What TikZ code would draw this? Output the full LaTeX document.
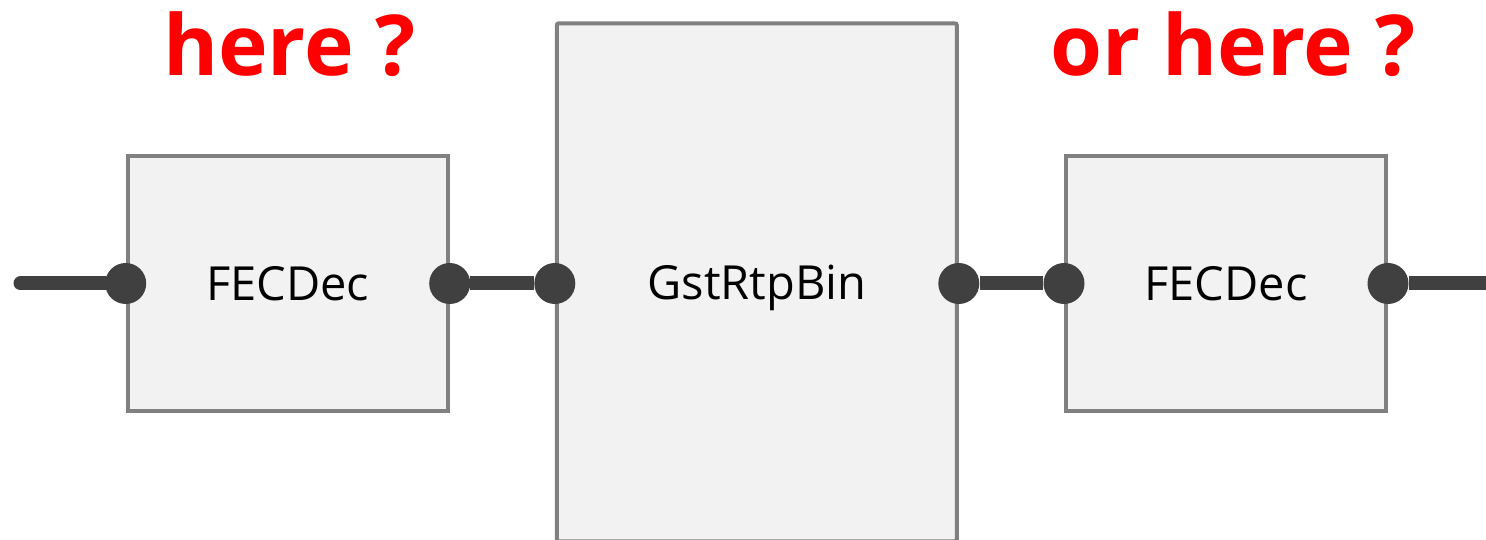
\documentclass[tikz,border=0pt]{standalone}
\usepackage{fontspec}
\setmainfont{Open Sans}
\usepackage{tikz}

\definecolor{boxfill}{HTML}{F2F2F2}
\definecolor{boxline}{HTML}{808080}
\definecolor{padcol}{HTML}{404040}

\tikzset{
  element/.style={draw=boxline, fill=boxfill, line width=4pt, inner sep=0pt,
    text height=34pt, text depth=0pt, font=\fontsize{47}{56}\selectfont},
  pad/.style={circle, fill=padcol, inner sep=0pt, minimum size=41pt},
  link/.style={draw=padcol, line width=14pt},
  question/.style={text=red, anchor=base, font=\fontsize{84}{100}\selectfont\bfseries}
}

\begin{document}
\begin{tikzpicture}[x=1pt, y=1pt]
  \useasboundingbox (0,0) rectangle (1486,540);
  % elements
  \node [element, minimum width=320pt, minimum height=255pt] (dec1) at (287.7, 256.5) {FECDec};
  \node [element, rounded corners=2pt, minimum width=400pt, minimum height=518pt] (rtp) at (756.8, 257.7) {GstRtpBin};
  \node [element, minimum width=320pt, minimum height=255pt] (dec2) at (1226, 256.5) {FECDec};
  % pads
  \node [pad] (dec1sink) at (dec1.west) {};
  \node [pad] (dec1src) at (dec1.east) {};
  \node [pad] (rtpsink) at (rtp.west |- dec1.west) {};
  \node [pad] (rtpsrc) at (rtp.east |- dec1.west) {};
  \node [pad] (dec2sink) at (dec2.west) {};
  \node [pad] (dec2src) at (dec2.east) {};
  \coordinate (in) at (20.5, 256.5);
  \coordinate (out) at (1492, 256.5);
  % links
  \draw [link, line cap=round] (in) -- (dec1sink);
  \draw [link] (dec1src) -- (rtpsink);
  \draw [link] (rtpsrc) -- (dec2sink);
  \draw [link] (dec2src) -- (out);
  % questions
  \node [question] (qleft) at (289.5, 464) {here ?};
  \node [question] (qright) at (1233, 464) {or here ?};
\end{tikzpicture}
\end{document}
